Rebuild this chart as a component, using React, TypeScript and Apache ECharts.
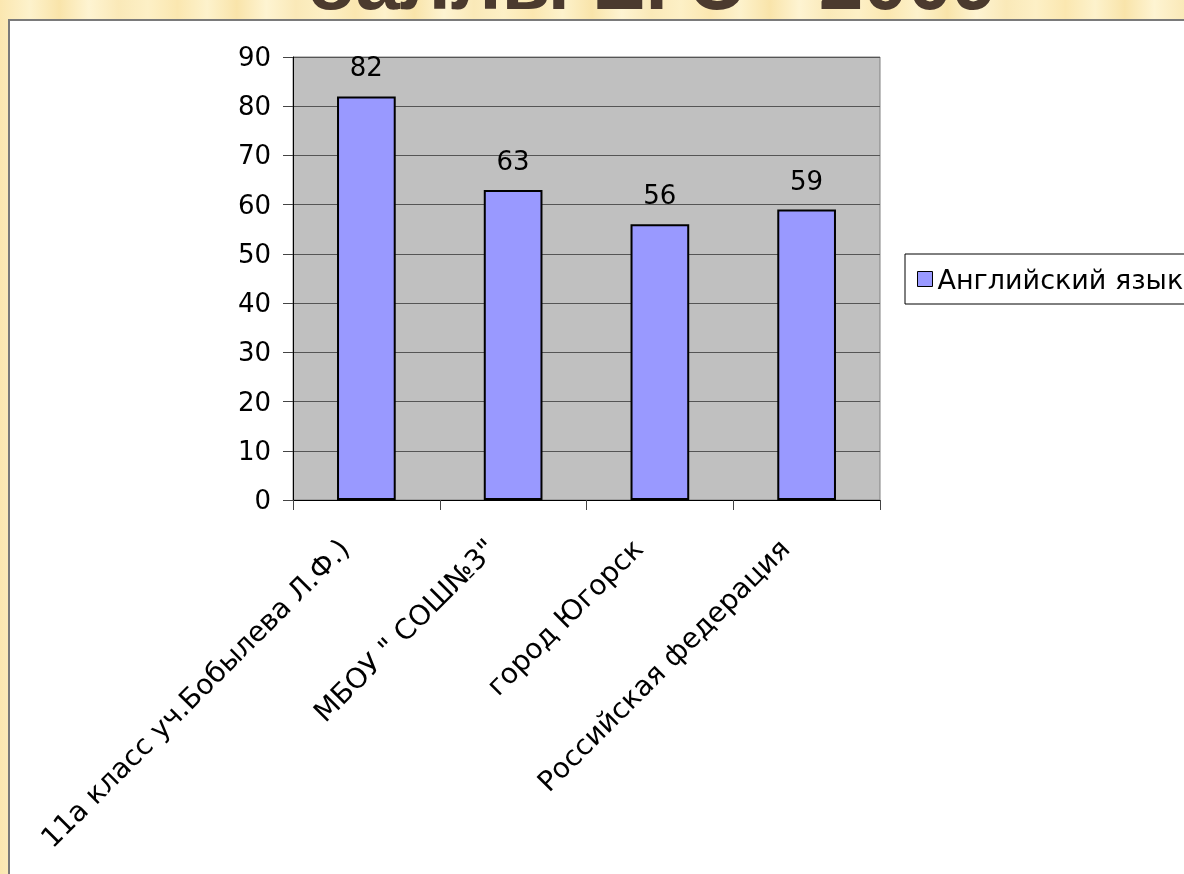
import React, { useEffect, useRef } from "react";
import * as echarts from "echarts";

const categories = [
  "11а класс уч.Бобылева Л.Ф.)",
  "МБОУ \" СОШ№3\"",
  "город Югорск",
  "Российская федерация",
];
const seriesName = "Английский язык";
const values = [82, 63, 56, 59];
const yTicks = { min: 0, max: 90, interval: 10 };
const titleText = "баллы ЕГЭ - 2009";

const FONT = "DejaVu Sans";

export default function App() {
  const ref = useRef<HTMLDivElement>(null);
  useEffect(() => {
    if (!ref.current) return;
    const chart = echarts.init(ref.current, undefined, { renderer: "svg" });
    const stops: { offset: number; color: string }[] = [];
    const shades = ["#fbe7b0", "#fdf2cc", "#f9e4aa", "#fef4d2", "#fae9b8", "#fdf0c6"];
    for (let i = 0; i <= 40; i++) {
      stops.push({ offset: i / 40, color: shades[i % shades.length] });
    }
    chart.setOption({
      animation: false,
      graphic: [
        {
          type: "rect",
          z: -10,
          silent: true,
          shape: { x: 0, y: 0, width: 1184, height: 874 },
          style: {
            fill: new echarts.graphic.LinearGradient(0, 0, 1, 0, stops),
          },
        },
        {
          type: "text",
          z: -9,
          silent: true,
          x: 306,
          y: 21,
          style: {
            text: titleText,
            font: `bold 80px "Liberation Sans"`,
            fill: "#4b3a2e",
            verticalAlign: "bottom",
          },
        },
        {
          type: "rect",
          z: -8,
          silent: true,
          shape: { x: 9, y: 20, width: 1200, height: 900 },
          style: { fill: "#ffffff", stroke: "#7a7a7a", lineWidth: 2 },
        },
      ],
      legend: {
        show: true,
        left: 905,
        top: 254,
        orient: "vertical",
        backgroundColor: "#ffffff",
        borderColor: "#000000",
        borderWidth: 1,
        padding: [10, 40, 10, 12],
        itemWidth: 15,
        itemHeight: 15,
        icon: "rect",
        itemStyle: { borderColor: "#000000", borderWidth: 1 },
        textStyle: { fontFamily: FONT, fontSize: 27, color: "#000", lineHeight: 30 },
        data: [seriesName],
      },
      grid: {
        show: true,
        left: 293,
        top: 57,
        width: 587,
        height: 443,
        backgroundColor: "#c0c0c0",
        borderColor: "#808080",
        borderWidth: 1,
      },
      xAxis: {
        type: "category",
        data: categories,
        boundaryGap: true,
        axisLine: { show: true, lineStyle: { color: "#000", width: 1 } },
        axisTick: { show: true, length: 10, alignWithLabel: false, lineStyle: { color: "#444" } },
        axisLabel: {
          rotate: 45,
          interval: 0,
          margin: 22,
          padding: [0, 31, 0, 0],
          fontFamily: FONT,
          fontSize: 28,
          color: "#000",
        },
        splitLine: { show: false },
      },
      yAxis: {
        type: "value",
        min: yTicks.min,
        max: yTicks.max,
        interval: yTicks.interval,
        axisLine: { show: true, lineStyle: { color: "#000", width: 1 } },
        axisTick: { show: true, length: 10, lineStyle: { color: "#444" } },
        axisLabel: { margin: 22, fontFamily: FONT, fontSize: 26, color: "#000" },
        splitLine: { show: true, lineStyle: { color: "#555", width: 1 } },
      },
      series: [
        {
          name: seriesName,
          type: "bar",
          data: values,
          barWidth: "40%",
          itemStyle: { color: "#9999ff", borderColor: "#000000", borderWidth: 2 },
          label: {
            show: true,
            position: "top",
            distance: 16,
            fontFamily: FONT,
            fontSize: 26,
            color: "#000",
          },
        },
      ],
    });
    return () => chart.dispose();
  }, []);
  return (
    <div
      ref={ref}
      style={{ position: "fixed", left: 0, top: 0, width: 1184, height: 874 }}
    />
  );
}
